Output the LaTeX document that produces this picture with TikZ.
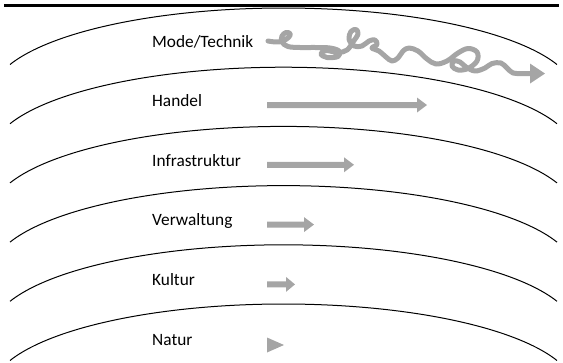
\documentclass[tikz,border=0pt]{standalone}
\usepackage{fontspec}
\setmainfont{Carlito}
\definecolor{arrowgray}{HTML}{A5A5A5}
\tikzset{
  layerline/.style={black, line width=1pt},
  toprule/.style={black, line width=2.2pt},
  layerlabel/.style={anchor=base west, inner sep=0pt, font=\fontsize{17.3}{20}\selectfont},
  squiggle/.style={arrowgray, line width=5pt, line cap=round, line join=round},
  blockfill/.style={fill=arrowgray, draw=none}
}
\begin{document}
\begin{tikzpicture}[x=1pt,y=-1pt]
\useasboundingbox (0,0) rectangle (563,362);
% top rule
\coordinate (ruleL) at (4,5.5);
\coordinate (ruleR) at (559,5.5);
\draw[toprule] (ruleL) -- (ruleR);
% layer arcs
\foreach \n in {0,...,5}{
  \pgfmathsetmacro{\yc}{8+59.2*\n+86.98}
  \draw[layerline] plot[domain=20.51:159.49, samples=90, variable=\t]
     ({283.5+292*cos(\t)}, {\yc-86.98*sin(\t)});
}
% labels
\node[layerlabel] (mode)  at (152,47)    {Mode/Technik};
\node[layerlabel] (handel) at (152,106.4) {Handel};
\node[layerlabel] (infra) at (152,166) {Infrastruktur};
\node[layerlabel] (verw)  at (152,225.6) {Verwaltung};
\node[layerlabel] (kultur) at (152,285.2) {Kultur};
\node[layerlabel] (natur) at (152,345)   {Natur};
% block arrows: tip x / centre y / head length
\foreach \tip/\yy/\hl in {427/105/10, 354/164.8/10, 314/224.6/10, 295/284.4/9}{
  \fill[blockfill] (267,{\yy-3}) -- ({\tip-\hl},{\yy-3}) -- ({\tip-\hl},{\yy-7.5})
     -- (\tip,\yy) -- ({\tip-\hl},{\yy+7.5}) -- ({\tip-\hl},{\yy+3}) -- (267,{\yy+3}) -- cycle;
}
% Natur: head only
\fill[blockfill] (267,337.5) -- (284,345) -- (267,352.5) -- cycle;
% Mode/Technik squiggle
\draw[squiggle] plot[smooth, tension=0.6] coordinates {
 (268,41) (276,42) (283,41) (289,37) (290,33.5) (286,32.5) (282,36) (282,42) (288,46.5)
 (300,47.5) (316,47.5) (330,48) (339,51) (338,56.5) (327,57.5) (321,54) (326,50.5)
 (338,52.5) (347,50) (353,42) (358,34) (356,29.5) (351,31.5) (349,39) (354,46) (362,46)
 (369,41) (375,40) (377,44.5) (372,48) (379,51) (386,57) (392,61) (398,58) (403,51)
 (409,48) (418,51) (427,59) (436,64) (447,61) (458,53) (468,48.5) (477,52) (477,61)
 (468,68.5) (458,70) (452,66) (454,61) (460,62) (466,67) (475,71) (485,68) (492,63.5)
 (501,63) (507,68) (513,73) (522,73.5) (531,73.5)};
\coordinate (sqend) at (531,73.5);
\fill[blockfill] (530,63.5) -- (545,73.5) -- (530,83.5) -- cycle;
\end{tikzpicture}
\end{document}
